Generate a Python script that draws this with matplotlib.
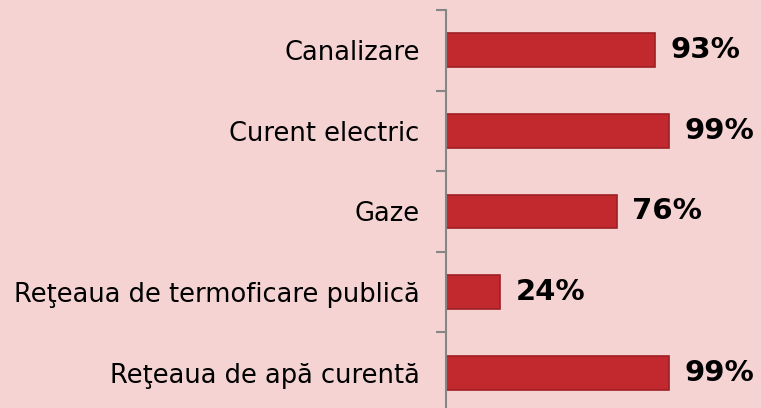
import matplotlib.pyplot as plt
import numpy as np

categories = ['Reţeaua de apă curentă', 'Reţeaua de termoficare publică', 'Gaze',
              'Curent electric', 'Canalizare']
values = [99, 24, 76, 99, 93]

bg = '#F5D3D3'
fig = plt.figure(figsize=(7.61, 4.08), dpi=100, facecolor=bg)
ax = fig.add_axes([446 / 761, -5 / 408, 1 - 446 / 761, 403 / 408])
ax.set_facecolor(bg)

y = np.arange(len(categories))
bars = ax.barh(y, values, height=0.42, color='#C1292E', edgecolor='#9E2024', linewidth=1.2)
ax.set_xlim(0, 140)
ax.set_ylim(-0.5, len(categories) - 0.5)

for b, v in zip(bars, values):
    ax.annotate(f'{v}%', (b.get_width(), b.get_y() + b.get_height() / 2),
                xytext=(11, 0), textcoords='offset points', va='center', ha='left',
                fontsize=21, fontweight='bold', color='black')

for s in ['top', 'right', 'bottom']:
    ax.spines[s].set_visible(False)
ax.spines['left'].set_color('#868686')
ax.spines['left'].set_linewidth(1.5)
ax.set_xticks([])

# tick marks between categories, labels centred on bars
ax.set_yticks(np.arange(-0.5, len(categories), 1.0))
ax.set_yticklabels([])
ax.tick_params(axis='y', which='major', length=7, width=1.5, color='#868686')
ax.set_yticks(y, minor=True)
ax.set_yticklabels(categories, minor=True, fontsize=18.5)
ax.tick_params(axis='y', which='minor', length=0, pad=19)

fig.savefig('out.png', dpi=100, facecolor=bg)
